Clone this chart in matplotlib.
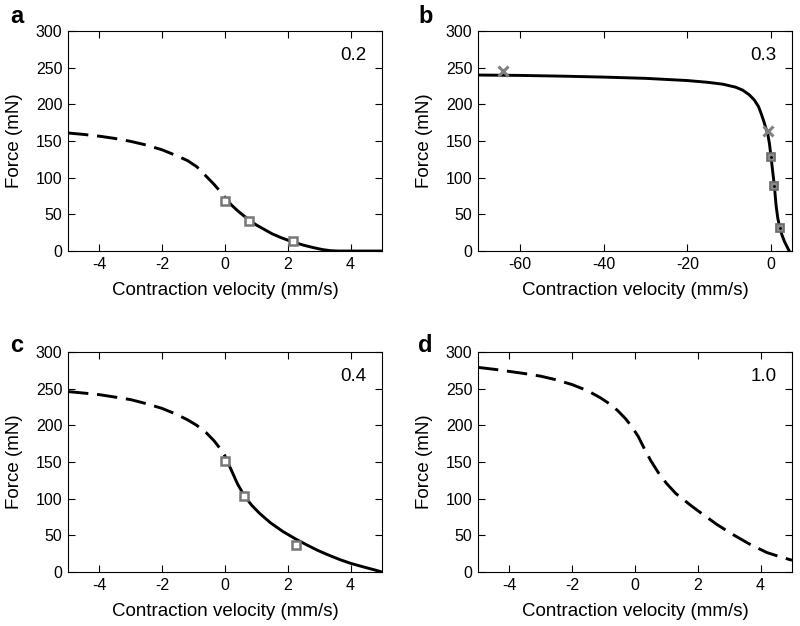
import matplotlib
matplotlib.use("Agg")
import matplotlib.pyplot as plt

plt.rcParams['font.family'] = ['Liberation Sans', 'DejaVu Sans']
plt.rcParams['axes.unicode_minus'] = False

# panel a (0.2)
a_dash_x = [-5, -4.5, -4, -3.5, -3, -2.5, -2, -1.6, -1.2, -0.9, -0.6, -0.35, -0.15, 0]
a_dash_y = [161, 159, 156.6, 153.5, 149.5, 144.5, 138, 131, 123.5, 115, 102, 91, 81, 73]
a_sol_x = [0, 0.2, 0.4, 0.6, 0.8, 1.0, 1.25, 1.5, 1.8, 2.15, 2.5, 2.8, 3.1, 3.35, 3.6, 4, 4.5, 5]
a_sol_y = [73, 63, 55, 48, 41.5, 35.5, 29.5, 23.5, 18, 12.5, 8, 4.8, 2, 0.5, 0, 0, 0, 0]
a_pts_x = [0, 0.78, 2.15]
a_pts_y = [68, 41, 13]

# panel b (0.3)
b_x = [-70, -60, -50, -40, -30, -25, -20, -15, -11.5, -8.5, -6.8, -5.2, -4.0, -3.0,
       -2.4, -1.8, -1.35, -0.8, -0.4, 0, 0.4, 0.8, 1.2, 1.6, 2.1, 2.6, 3.2, 3.8, 4.35]
b_y = [240, 239.5, 238.5, 237.2, 235.5, 234, 232.5, 230, 227.5, 223.5, 219.5, 213, 206, 197,
       188, 178, 169.6, 160, 147, 128, 108, 88, 62, 45, 31, 22, 13, 6, 0]
b_sq_x = [0, 0.8, 2.2]
b_sq_y = [128, 88, 31]
b_x_x = [-64, -0.8]
b_x_y = [245, 164]

# panel c (0.4)
c_dash_x = [-5, -4.5, -4, -3.5, -3, -2.5, -2, -1.6, -1.2, -0.9, -0.6, -0.35, -0.15, 0]
c_dash_y = [246, 244, 241.8, 238.5, 235, 229.5, 223, 216, 207.7, 200, 190, 179, 168, 158]
c_sol_x = [0, 0.2, 0.4, 0.6, 0.85, 1.1, 1.45, 1.85, 2.25, 2.6, 2.95, 3.3, 3.65, 4.0, 4.4, 4.75, 5]
c_sol_y = [158, 139, 120, 105, 91, 80, 67, 55, 45, 37, 29.5, 23, 17, 11.8, 7, 3, 0]
c_pts_x = [0, 0.6, 2.25]
c_pts_y = [152, 103, 37]

# panel d (1.0)
d_x = [-5, -4.5, -4, -3.5, -3, -2.5, -2, -1.5, -1.1, -0.8, -0.55, -0.3, -0.1, 0.1, 0.3, 0.5,
       0.75, 1.0, 1.3, 1.55, 1.8, 2.1, 2.6, 3.1, 3.65, 4.2, 4.6, 5]
d_y = [279, 276.5, 273.5, 270.5, 267, 262, 255.5, 247, 237.5, 229, 220, 209, 198, 185, 168, 152,
       135, 121, 107, 98.5, 90, 80.5, 65, 51.5, 38, 26.5, 21, 16]

labels = ['a', 'b', 'c', 'd']
annots = ['0.2', '0.3', '0.4', '1.0']

fig = plt.figure(figsize=(8, 6.26), dpi=100)
lefts = [0.085, 0.5975, 0.085, 0.5975]
bottoms = [0.599, 0.599, 0.0863, 0.0863]
axes = [fig.add_axes([lefts[i], bottoms[i], 0.3925, 0.3514]) for i in range(4)]

lw = 2.1
dash = (0, (7, 3))
mk = dict(marker='s', ls='none', ms=5.5, mfc='white', mec='#777777', mew=1.8)
mk_b = dict(marker='s', ls='none', ms=6, mfc='#8a8a8a', mec='#6a6a6a', mew=1.2)

ax = axes[0]
ax.plot(a_dash_x, a_dash_y, color='black', lw=lw, ls=dash)
ax.plot(a_sol_x, a_sol_y, color='black', lw=lw)
ax.plot(a_pts_x, a_pts_y, **mk)

ax = axes[1]
ax.plot(b_x, b_y, color='black', lw=lw)
ax.plot(b_sq_x, b_sq_y, **mk_b)
ax.plot(b_sq_x, b_sq_y, ls='none', marker='.', ms=2, color='black')
ax.plot(b_x_x, b_x_y, ls='none', marker='x', ms=7, mew=2.2, color='#808080')

ax = axes[2]
ax.plot(c_dash_x, c_dash_y, color='black', lw=lw, ls=dash)
ax.plot(c_sol_x, c_sol_y, color='black', lw=lw)
ax.plot(c_pts_x, c_pts_y, **mk)

ax = axes[3]
ax.plot(d_x, d_y, color='black', lw=lw, ls=dash)

for i, ax in enumerate(axes):
    if i == 1:
        ax.set_xlim(-70, 5)
        ax.set_xticks([-60, -40, -20, 0])
    else:
        ax.set_xlim(-5, 5)
        ax.set_xticks([-4, -2, 0, 2, 4])
    ax.set_ylim(0, 300)
    ax.set_yticks(range(0, 301, 50))
    ax.tick_params(direction='in', top=True, right=True, length=5, width=0.8,
                   labelsize=11.5, pad=4)
    for s in ax.spines.values():
        s.set_linewidth(0.8)
    xl = ax.set_xlabel('Contraction velocity (mm/s)', fontsize=13.5)
    yl = ax.set_ylabel('Force (mN)', fontsize=13.5)
    xl.set_va('center')
    yl.set_va('center')
    ax.xaxis.set_label_coords(0.5, -0.178)
    ax.yaxis.set_label_coords(-0.171, 0.5)
    ax.text(0.91, 0.89, annots[i], transform=ax.transAxes, ha='center', va='center',
            fontsize=13.5)

lx = [0.021, 0.532, 0.021, 0.532]
ly = [0.963, 0.963, 0.438, 0.438]
for i in range(4):
    fig.text(lx[i], ly[i], labels[i], fontsize=17, fontweight='bold', ha='center', va='baseline')

fig.savefig('out.png', dpi=100)
